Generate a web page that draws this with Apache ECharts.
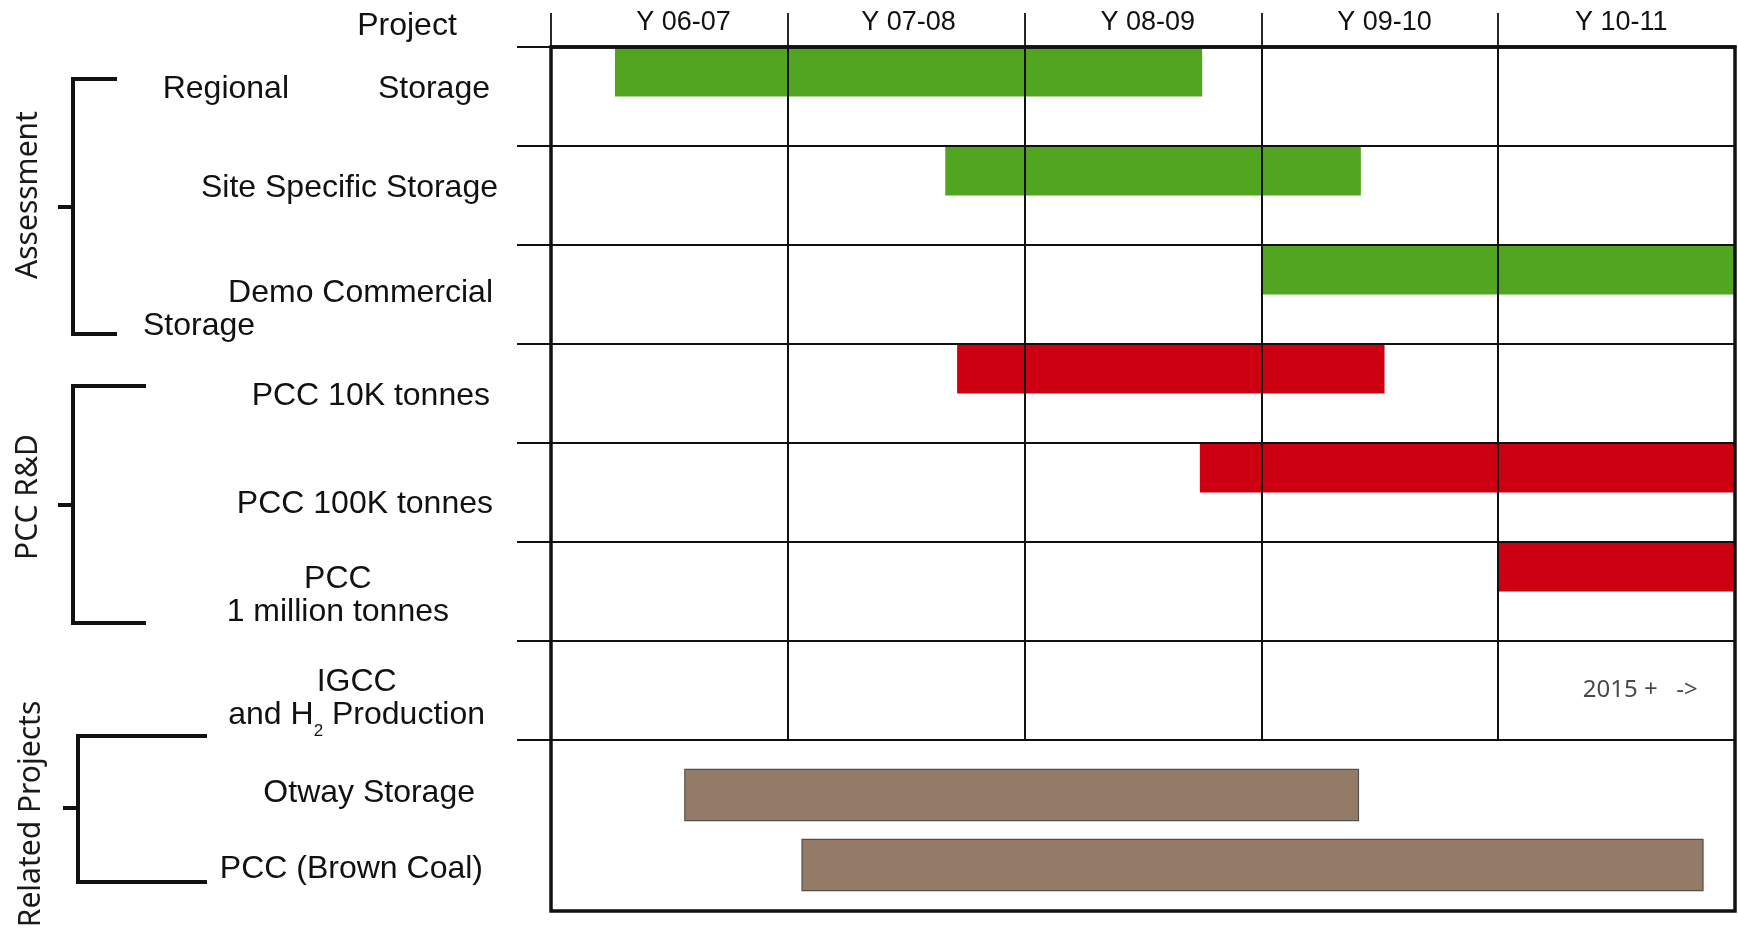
<!DOCTYPE html>
<html>
<head>
<meta charset="utf-8">
<script src="https://cdn.jsdelivr.net/npm/echarts@6/dist/echarts.min.js"></script>
<style>
  html, body { margin: 0; padding: 0; background: #fff; }
  #chart { width: 1738px; height: 933px; }
</style>
</head>
<body>
<div id="chart"></div>
<script>
// year columns
const years = ['Y 06-07', 'Y 07-08', 'Y 08-09', 'Y 09-10', 'Y 10-11'];
const yearTicks = [0, 1, 2, 3, 4];
const yearLabelAt = [0.56, 1.51, 2.52, 3.52, 4.52];

// upper block (one row per project)
const mainRows = ['Regional Storage', 'Site Specific Storage', 'Demo Commercial Storage',
  'PCC 10K tonnes', 'PCC 100K tonnes', 'PCC 1 million tonnes', 'IGCC and H2 Production'];
const mainGroups = ['Assessment', 'Assessment', 'Assessment', 'PCC R&D', 'PCC R&D', 'PCC R&D', 'Related Projects'];
const mainStart = [0.27, 1.665, 3.0, 1.715, 2.74, 4.0, null];
const mainEnd = [2.75, 3.42, 5.0, 3.52, 5.0, 5.0, null];

// lower block
const relatedRows = ['Otway Storage', 'PCC (Brown Coal)'];
const relatedStart = [0.565, 1.06];
const relatedEnd = [3.41, 4.865];

const noteText = '2015 +   ->';
const noteAt = [4.6, 6];

const groupColor = {
  'Assessment': '#52a51f',
  'PCC R&D': '#cc0010',
  'Related Projects': '#947b67'
};

const chartDom = document.getElementById('chart');
const myChart = echarts.init(chartDom);

const FONT = 'Liberation Sans, Arial, sans-serif';

// left labels (rich text) and their nudges
const mainLabels = [
  '{r|Regional          Storage}',
  '{r|Site Specific Storage}',
  '{r|Demo Commercial}\n{l|Storage}',
  '{r|PCC 10K tonnes}',
  '{r|PCC 100K tonnes}',
  '{c|PCC}\n{c|1 million tonnes}',
  '{c|IGCC}\n{c|and H}{sub|2}{c| Production}'
];
const labelPad = [
  [0, 9, 15, 0],
  [0, 1, 15, 0],
  [31, 6, 0, 0],
  [6, 9, 0, 0],
  [24, 6, 0, 0],
  [8, 50, 0, 0],
  [17, 14, 0, 0]
];
const relatedPad = [[0, 8, 4, 0], [9, 0, 0, 0]];

const rich = {
  r: { fontSize: 32, lineHeight: 33, align: 'right', fontFamily: FONT, color: '#111' },
  c: { fontSize: 32, lineHeight: 33, align: 'center', fontFamily: FONT, color: '#111' },
  l: { fontSize: 32, lineHeight: 33, align: 'left', width: 350, fontFamily: FONT, color: '#111' },
  sub: { fontSize: 17, lineHeight: 16, align: 'center', verticalAlign: 'top', padding: [24, 0, 0, 0], fontFamily: FONT, color: '#111' }
};

const mainData = [];
mainRows.forEach((r, i) => {
  if (mainStart[i] === null) return;
  mainData.push({ value: [i, mainStart[i], mainEnd[i]], itemStyle: { color: groupColor[mainGroups[i]] } });
});
const relatedData = relatedRows.map((r, i) => ({
  value: [i, relatedStart[i], relatedEnd[i]],
  itemStyle: { color: groupColor['Related Projects'], borderColor: '#55504a', borderWidth: 1.2 }
}));

const barRender = (ratio, topAligned) => function (params, api) {
  const row = api.value(0);
  const p0 = api.coord([api.value(1), row]);
  const p1 = api.coord([api.value(2), row]);
  const band = api.size([0, 1])[1];
  const h = band * ratio;
  const y = topAligned ? p0[1] - band / 2 : p0[1] - h / 2;
  return {
    type: 'rect',
    shape: { x: p0[0], y: y, width: p1[0] - p0[0], height: h },
    style: api.style()
  };
};

const line = (pts) => ({
  type: 'polyline',
  shape: { points: pts },
  style: { stroke: '#111', lineWidth: 4, fill: 'none', lineJoin: 'miter' },
  silent: true
});
const sideText = (txt, x, y) => ({
  type: 'text',
  x: x, y: y,
  rotation: Math.PI / 2,
  style: {
    text: txt, align: 'center', verticalAlign: 'middle', textAlign: 'center', textVerticalAlign: 'middle',
    fontSize: 30, fontFamily: 'Noto Sans', fill: '#1a1a1a'
  },
  silent: true
});

const option = {
  animation: false,
  backgroundColor: '#fff',
  grid: [
    { left: 551, right: 3, top: 47, height: 693, outerBoundsMode: 'none' },
    { left: 551, right: 3, top: 760, height: 140, outerBoundsMode: 'none' },
    { left: 551, right: 3, top: 47, bottom: 22, show: true, borderColor: '#111', borderWidth: 3.5,
      backgroundColor: 'transparent', z: 5, outerBoundsMode: 'none' }
  ],
  xAxis: [
    {
      gridIndex: 0, type: 'value', min: 0, max: 5, interval: 1, position: 'top', z: 4,
      axisLine: { show: true, lineStyle: { color: '#111', width: 3.5 } },
      axisTick: { show: true, customValues: yearTicks, length: 34, lineStyle: { color: '#111', width: 1.8 } },
      axisLabel: {
        customValues: yearLabelAt, formatter: (v) => years[Math.floor(v)],
        fontSize: 27, fontFamily: FONT, color: '#111', margin: 11
      },
      splitLine: { show: true, lineStyle: { color: '#111', width: 2 } }
    },
    { gridIndex: 1, type: 'value', min: 0, max: 5, show: false },
    { gridIndex: 2, type: 'value', min: 0, max: 5, show: false }
  ],
  yAxis: [
    {
      gridIndex: 0, type: 'category', inverse: true, z: 4,
      data: mainRows.map((r, i) => ({ value: r, textStyle: { padding: labelPad[i] } })),
      axisLine: { show: false },
      axisTick: { show: true, length: 34, lineStyle: { color: '#111', width: 2 } },
      axisLabel: {
        interval: 0, margin: 52, fontSize: 32, fontFamily: FONT, color: '#111',
        formatter: (v, i) => mainLabels[i], rich: rich
      },
      splitLine: { show: true, lineStyle: { color: '#111', width: 2 } }
    },
    {
      gridIndex: 1, type: 'category', inverse: true,
      data: relatedRows.map((r, i) => ({ value: r, textStyle: { padding: relatedPad[i] } })),
      axisLine: { show: false }, axisTick: { show: false }, splitLine: { show: false },
      axisLabel: {
        interval: 0, margin: 68, fontSize: 32, fontFamily: FONT, color: '#111',
        formatter: (v) => '{r|' + v + '}', rich: rich
      }
    },
    { gridIndex: 2, type: 'value', show: false }
  ],
  series: [
    {
      type: 'custom', xAxisIndex: 0, yAxisIndex: 0,
      renderItem: barRender(0.5, true),
      encode: { x: [1, 2], y: 0 },
      data: mainData
    },
    {
      type: 'custom', xAxisIndex: 1, yAxisIndex: 1,
      renderItem: barRender(0.73, false),
      encode: { x: [1, 2], y: 0 },
      data: relatedData
    },
    {
      type: 'scatter', xAxisIndex: 0, yAxisIndex: 0,
      symbolSize: 1, itemStyle: { color: 'transparent' },
      label: {
        show: true, position: 'inside', formatter: noteText,
        fontSize: 24, fontFamily: 'Noto Sans', color: '#1a1a1a'
      },
      data: [noteAt]
    }
  ],
  graphic: [
    {
      type: 'text', x: 407, y: 26, silent: true,
      style: {
        text: 'Project', align: 'center', verticalAlign: 'middle', textAlign: 'center', textVerticalAlign: 'middle',
        fontSize: 32, fontFamily: FONT, fill: '#111'
      }
    },
    line([[117, 79], [73, 79], [73, 334], [117, 334]]),
    line([[58, 207], [73, 207]]),
    line([[146, 386], [73, 386], [73, 623], [146, 623]]),
    line([[58, 505], [73, 505]]),
    line([[207, 736], [78, 736], [78, 882], [207, 882]]),
    line([[63, 808], [78, 808]]),
    sideText('Assessment', 28, 195),
    sideText('PCC R&D', 28, 497),
    sideText('Related Projects', 31, 814)
  ]
};

option && myChart.setOption(option);
</script>
</body>
</html>
